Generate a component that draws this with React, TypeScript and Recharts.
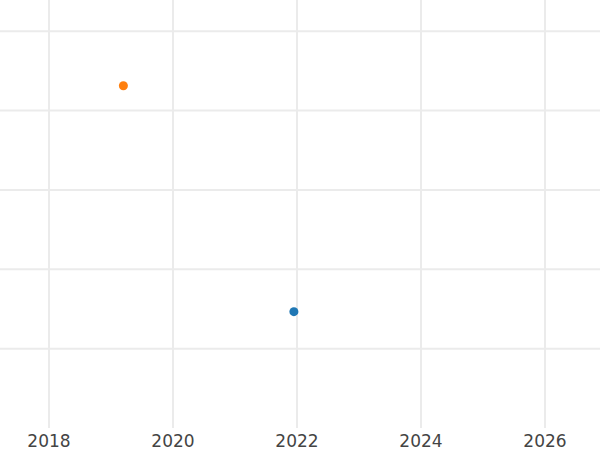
import { CartesianGrid, Scatter, ScatterChart, XAxis, YAxis, ZAxis } from 'recharts'

const years = [2018, 2020, 2022, 2024, 2026]
const yTicks = [1, 2, 3, 4, 5]
const seriesA = [{ x: 2021.95, y: 1.466 }]
const seriesB = [{ x: 2019.2, y: 4.314 }]

export default function App() {
  return (
    <div style={{ position: 'absolute', left: 0, top: 0, background: '#fff' }}>
      <ScatterChart width={600} height={450} margin={{ top: 0, right: 0, bottom: 0, left: 0 }}>
        <CartesianGrid stroke={'#ebebeb'} strokeWidth={2} syncWithTicks />
        <XAxis
          type={'number'}
          dataKey={'x'}
          domain={[2017.21, 2026.887]}
          ticks={years}
          allowDataOverflow
          axisLine={false}
          tickLine={false}
          tickMargin={1}
          height={22}
          tick={{ fill: '#444', fontSize: 17, fontFamily: 'DejaVu Sans' }}
        />
        <YAxis type={'number'} dataKey={'y'} domain={[0, 5.394]} ticks={yTicks} allowDataOverflow hide />
        <ZAxis range={[58, 58]} />
        <Scatter data={seriesA} fill={'#1f77b4'} isAnimationActive={false} />
        <Scatter data={seriesB} fill={'#ff7f0e'} isAnimationActive={false} />
      </ScatterChart>
    </div>
  )
}
